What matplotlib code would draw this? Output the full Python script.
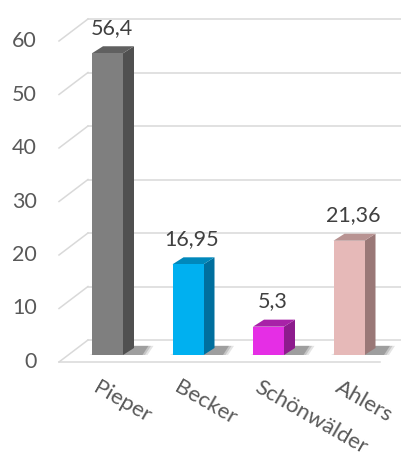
import matplotlib
matplotlib.use("Agg")
import matplotlib.pyplot as plt
from matplotlib.patches import Polygon

plt.rcParams['font.family'] = ['Lato', 'DejaVu Sans']

# Daten
namen = ['Pieper', 'Becker', 'Schönwälder', 'Ahlers']
werte = [56.4, 16.95, 5.3, 21.36]
beschriftung = ['56,4', '16,95', '5,3', '21,36']
farben_vorne = ['#7f7f7f', '#00b0f0', '#e52ee5', '#e6b9b8']
farben_seite = ['#505050', '#006f9e', '#8d1c8d', '#9a7877']
farben_oben = ['#606060', '#0088bb', '#a822a8', '#b89392']
yticks = [0, 10, 20, 30, 40, 50, 60]

# Pixel -> Datenmaßstab (Kategorie ~80.5 px, Einheit ~5.35 px)
px_x = 80.5
px_y = 5.35
breite = 31 / px_x
dx = 11 / px_x          # Tiefe der Säule
dy = 7 / px_y
wand_dx = 29 / px_x     # Tiefe Boden/Rückwand
wand_dy = 22 / px_y
gitter_x0 = (59 - 107.5) / px_x
gitter_y_off = -7 / px_y   # vordere Gitterkante liegt etwas tiefer als Säulenbasis

fig = plt.figure(figsize=(4.01, 4.59), dpi=100)
ax = fig.add_axes([0, 0, 1, 1])
ax.set_xlim(-107.5 / px_x, (401 - 107.5) / px_x)
ax.set_ylim((355 - 459) / px_y, 355 / px_y)
ax.axis('off')

grau = '#d9d9d9'
x_rechts = (401 - 107.5) / px_x
for t in yticks:
    y0 = t + gitter_y_off
    ax.plot([gitter_x0, gitter_x0 + wand_dx], [y0, y0 + wand_dy], color=grau, lw=1.1, zorder=1)
    ax.plot([gitter_x0 + wand_dx, x_rechts], [y0 + wand_dy, y0 + wand_dy], color=grau, lw=1.1, zorder=1)
    ax.text(gitter_x0 - 22 / px_x, y0, str(t), ha='right', va='center',
            fontsize=15.5, color='#595959')
# vordere Bodenkante
ax.plot([gitter_x0, (380 - 107.5) / px_x], [gitter_y_off, gitter_y_off], color=grau, lw=1.1, zorder=1)

for i, (n, v) in enumerate(zip(namen, werte)):
    x0 = i - breite / 2
    x1 = i + breite / 2
    # Schatten
    for k, a in enumerate([0.12, 0.16, 0.24]):
        e = (3 - k) * 2.5 / px_x
        ax.add_patch(Polygon([(x0 + 5 / px_x - e, 0), (x1 + dx + 6 / px_x + e, 0),
                              (x1 + dx + 12 / px_x + e, dy + 0.4),
                              (x0 + dx + 12 / px_x - e, dy + 0.4)],
                             closed=True, facecolor='#252525', edgecolor='none',
                             alpha=a, zorder=2))
    ax.bar(i, v, width=breite, color=farben_vorne[i], zorder=4)
    ax.add_patch(Polygon([(x1, 0), (x1, v), (x1 + dx, v + dy), (x1 + dx, dy)],
                         closed=True, facecolor=farben_seite[i], edgecolor='none', zorder=3))
    ax.add_patch(Polygon([(x0, v), (x1, v), (x1 + dx, v + dy), (x0 + dx, v + dy)],
                         closed=True, facecolor=farben_oben[i], edgecolor='none', zorder=3))
    ax.text(i + 0.05, v + dy + 1.6, beschriftung[i], ha='center', va='bottom',
            fontsize=15.5, color='#404040', zorder=5)
    ax.text(i - 0.09, -4.2, n, ha='left', va='top', rotation=-30,
            rotation_mode='anchor', fontsize=16, color='#595959')

fig.savefig('out.png', dpi=100)
